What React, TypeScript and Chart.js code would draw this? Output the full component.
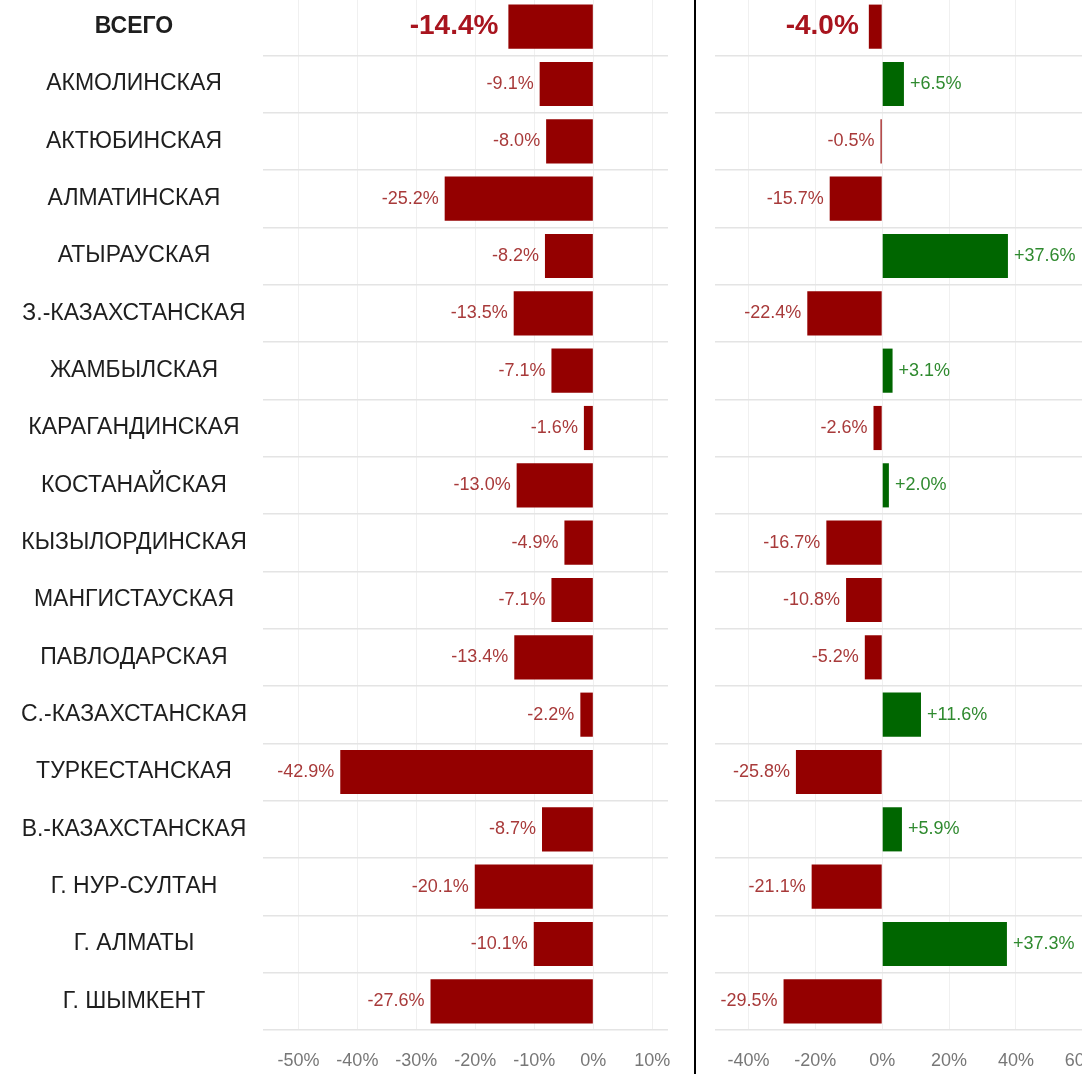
import React, { useEffect, useRef } from 'react';
import { Chart, registerables } from 'chart.js';

Chart.register(...registerables);

const categories = [
  'ВСЕГО',
  'АКМОЛИНСКАЯ',
  'АКТЮБИНСКАЯ',
  'АЛМАТИНСКАЯ',
  'АТЫРАУСКАЯ',
  'З.-КАЗАХСТАНСКАЯ',
  'ЖАМБЫЛСКАЯ',
  'КАРАГАНДИНСКАЯ',
  'КОСТАНАЙСКАЯ',
  'КЫЗЫЛОРДИНСКАЯ',
  'МАНГИСТАУСКАЯ',
  'ПАВЛОДАРСКАЯ',
  'С.-КАЗАХСТАНСКАЯ',
  'ТУРКЕСТАНСКАЯ',
  'В.-КАЗАХСТАНСКАЯ',
  'Г. НУР-СУЛТАН',
  'Г. АЛМАТЫ',
  'Г. ШЫМКЕНТ',
];

const leftValues = [
  -14.4, -9.1, -8.0, -25.2, -8.2, -13.5, -7.1, -1.6, -13.0, -4.9, -7.1, -13.4, -2.2, -42.9, -8.7, -20.1, -10.1, -27.6,
];

const rightValues = [
  -4.0, 6.5, -0.5, -15.7, 37.6, -22.4, 3.1, -2.6, 2.0, -16.7, -10.8, -5.2, 11.6, -25.8, 5.9, -21.1, 37.3, -29.5,
];

const leftTicks = [-50, -40, -30, -20, -10, 0, 10];
const rightTicks = [-40, -20, 0, 20, 40, 60];

const FONT = '"Liberation Sans", Arial, sans-serif';
const RED = '#940000';
const GREEN = '#006600';

function valueLabelPlugin(id: string) {
  return {
    id,
    afterDatasetsDraw(chart: any) {
      const ctx = chart.ctx;
      const meta = chart.getDatasetMeta(0);
      const data = chart.data.datasets[0].data as number[];
      ctx.save();
      meta.data.forEach((el: any, i: number) => {
        const v = data[i];
        const isTotal = i === 0;
        const txt = (v > 0 ? '+' : '') + v.toFixed(1) + '%';
        ctx.font = isTotal ? `bold 28px ${FONT}` : `18px ${FONT}`;
        ctx.fillStyle = v < 0 ? (isTotal ? '#a8141e' : '#a83a3a') : '#2f8a2f';
        ctx.textBaseline = 'middle';
        const gap = isTotal ? 10 : 6;
        if (v < 0) {
          ctx.textAlign = 'right';
          ctx.fillText(txt, Math.min(el.x, el.base) - gap, el.y);
        } else {
          ctx.textAlign = 'left';
          ctx.fillText(txt, Math.max(el.x, el.base) + gap, el.y);
        }
      });
      ctx.restore();
    },
  };
}

function makeConfig(values: number[], min: number, max: number, tickVals: number[], showLabels: boolean, id: string): any {
  return {
    type: 'bar',
    data: {
      labels: categories,
      datasets: [
        {
          data: values,
          backgroundColor: values.map((v) => (v < 0 ? RED : GREEN)),
          borderWidth: 0,
          barPercentage: 0.77,
          categoryPercentage: 1,
        },
      ],
    },
    options: {
      indexAxis: 'y',
      animation: false,
      responsive: false,
      maintainAspectRatio: false,
      layout: { padding: { left: 0, right: showLabels ? 22 : 0, top: 0, bottom: 0 } },
      plugins: { legend: { display: false }, tooltip: { enabled: false } },
      scales: {
        x: {
          type: 'linear',
          position: 'bottom',
          min,
          max,
          afterBuildTicks: (s: any) => {
            s.ticks = tickVals.map((v) => ({ value: v }));
          },
          afterFit: (s: any) => {
            s.height = 44;
            s.paddingLeft = 0;
            s.paddingRight = 0;
          },
          grid: { color: '#f0f0f0', lineWidth: 1, drawTicks: false },
          border: { display: false },
          ticks: {
            callback: (v: any) => v + '%',
            color: '#777777',
            font: { family: FONT, size: 18 },
            padding: 20,
            autoSkip: false,
            maxRotation: 0,
          },
        },
        y: {
          type: 'category',
          afterFit: (s: any) => {
            s.width = showLabels ? 263 : 0;
            s.paddingTop = 0;
            s.paddingBottom = 0;
          },
          grid: { color: '#e4e4e4', lineWidth: 1.5, drawTicks: false, offset: true },
          border: { display: false },
          ticks: {
            display: showLabels,
            crossAlign: 'center',
            padding: 16,
            color: '#1e1e1e',
            font: (c: any) => ({ family: FONT, size: 23, weight: c.index === 0 ? 'bold' : 'normal' }),
          },
        },
      },
    },
    plugins: [valueLabelPlugin(id)],
  };
}

export default function App() {
  const leftRef = useRef<HTMLCanvasElement>(null);
  const rightRef = useRef<HTMLCanvasElement>(null);

  useEffect(() => {
    const c1 = new Chart(leftRef.current as HTMLCanvasElement, makeConfig(leftValues, -56, 12.66, leftTicks, true, 'vl1'));
    const c2 = new Chart(rightRef.current as HTMLCanvasElement, makeConfig(rightValues, -50, 75, rightTicks, false, 'vl2'));
    return () => {
      c1.destroy();
      c2.destroy();
    };
  }, []);

  return (
    <div
      style={{
        position: 'absolute',
        left: 0,
        top: 0,
        width: 1082,
        height: 1074,
        overflow: 'hidden',
        background: '#ffffff',
      }}
    >
      <canvas
        ref={leftRef}
        width={690}
        height={1076}
        style={{ position: 'absolute', left: 0, top: -2, width: 690, height: 1076 }}
      />
      <div style={{ position: 'absolute', left: 694, top: 0, width: 2, height: 1074, background: '#000000' }} />
      <canvas
        ref={rightRef}
        width={418}
        height={1076}
        style={{ position: 'absolute', left: 715, top: -2, width: 418, height: 1076 }}
      />
    </div>
  );
}
